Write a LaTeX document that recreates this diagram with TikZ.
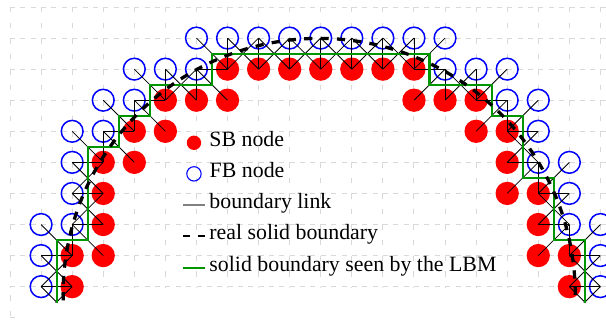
\documentclass[tikz,border=0pt]{standalone}
\usepackage{fontspec}
\setmainfont{Liberation Serif}
\usepackage{xcolor}
\definecolor{sbred}{RGB}{255, 0, 0}
\definecolor{fbblue}{RGB}{0, 0, 255}
\definecolor{lbmgreen}{RGB}{0, 150, 0}
\usepackage{tikz}
\usetikzlibrary{
    positioning
}
\tikzstyle{sbnode} = [
    circle,
    fill=sbred,
    inner sep=0pt,
    minimum size=0.6cm
]
\tikzstyle{fbnode} = [
    circle,
    draw=fbblue,
    line width=1.1pt,
    inner sep=0pt,
    minimum size=0.56cm
]
\tikzstyle{blink} = [
    black,
    line width=0.6pt
]
\tikzstyle{gridh} = [
    black!15,
    line width=0.7pt,
    dash pattern=on 3.66pt off 3.93pt
]
\tikzstyle{gridv} = [
    black!15,
    line width=0.7pt,
    dash pattern=on 4pt off 7.38pt
]
\tikzstyle{lbmline} = [
    lbmgreen,
    line width=1.5pt
]
\tikzstyle{realline} = [
    black,
    line width=2.4pt,
    dash pattern=on 6pt off 6pt
]
\tikzstyle{legmark} = [
    circle,
    inner sep=0pt,
    minimum size=0.37cm
]
\tikzstyle{legtext} = [
    inner sep=0pt,
    text height=1.5ex,
    text depth=0.25ex,
    font=\fontsize{16}{19}\selectfont
]

\begin{document}
\begin{tikzpicture}[x=0.8cm, y=-0.8cm]

\useasboundingbox (-0.322,-0.225) rectangle (19.18,10.138);

% Gitter
\foreach \r in {0,...,9} {
    \draw[gridh] (0,\r) -- (19.2,\r);
}
\foreach \c in {0,...,19} {
    \draw[gridv] (\c,0) -- (\c,9);
}
\draw[gridv] (0,9.27) -- (0,10);
\draw[gridh] (0,10) -- (0.2,10);

% SB nodes
\foreach \c/\r in {7/2,8/2,9/2,10/2,11/2,12/2,13/2,
                   5/3,6/3,7/3,13/3,14/3,15/3,
                   4/4,5/4,15/4,16/4,
                   3/5,4/5,16/5,
                   3/6,16/6,17/6,
                   3/7,17/7,
                   2/8,3/8,17/8,18/8,
                   2/9,18/9} {
    \node[sbnode] (sb-\c-\r) at (\c,\r) {};
}

% FB nodes
\foreach \c/\r in {6/1,7/1,8/1,9/1,10/1,11/1,12/1,13/1,14/1,
                   4/2,5/2,6/2,14/2,15/2,16/2,
                   3/3,4/3,16/3,17/3,
                   2/4,3/4,17/4,
                   2/5,17/5,18/5,
                   2/6,18/6,
                   1/7,2/7,18/7,19/7,
                   1/8,19/8,
                   1/9,19/9} {
    \node[fbnode] (fb-\c-\r) at (\c,\r) {};
}

% Knoten unterhalb des Bildrands
\coordinate (sb-2-10) at (2,10);
\coordinate (sb-18-10) at (18,10);
\coordinate (fb-1-10) at (1,10);
\coordinate (fb-19-10) at (19,10);

\begin{scope}
\clip (-0.5,-0.5) rectangle (19.5,9.5);

% boundary links
\newcommand{\fblinks}[2]{
    \foreach \t in {#2} {
        \draw[blink] (fb-#1.center) -- (sb-\t.center);
    }
}

\fblinks{6-1}{7-2};
\fblinks{7-1}{7-2,8-2};
\fblinks{8-1}{7-2,8-2,9-2};
\fblinks{9-1}{8-2,9-2,10-2};
\fblinks{10-1}{9-2,10-2,11-2};
\fblinks{11-1}{10-2,11-2,12-2};
\fblinks{12-1}{11-2,12-2,13-2};
\fblinks{13-1}{12-2,13-2};
\fblinks{14-1}{13-2};
\fblinks{4-2}{5-3};
\fblinks{5-2}{5-3,6-3};
\fblinks{6-2}{7-2,5-3,6-3,7-3};
\fblinks{14-2}{13-2,13-3,14-3,15-3};
\fblinks{15-2}{14-3,15-3};
\fblinks{16-2}{15-3};
\fblinks{3-3}{4-4};
\fblinks{4-3}{5-3,4-4,5-4};
\fblinks{16-3}{15-3,15-4,16-4};
\fblinks{17-3}{16-4};
\fblinks{2-4}{3-5};
\fblinks{3-4}{4-4,3-5,4-5};
\fblinks{17-4}{16-4,16-5};
\fblinks{2-5}{3-5,3-6};
\fblinks{17-5}{16-4,16-5,16-6,17-6};
\fblinks{18-5}{17-6};
\fblinks{2-6}{3-5,3-6,3-7};
\fblinks{18-6}{17-6,17-7};
\fblinks{1-7}{2-8};
\fblinks{2-7}{3-6,3-7,2-8,3-8};
\fblinks{18-7}{17-6,17-7,17-8,18-8};
\fblinks{19-7}{18-8};
\fblinks{1-8}{2-8,2-9};
\fblinks{19-8}{18-8,18-9};
\fblinks{1-9}{2-8,2-9,2-10};
\fblinks{19-9}{18-8,18-9,18-10};
\fblinks{1-10}{2-9};
\fblinks{19-10}{18-9};

% Rand, wie ihn das LBM sieht
\draw[lbmline]
    (1.5,9.6) -- (1.5,7.5) -- (2.5,7.5)   % links
    -- (2.5,4.5) -- (3.5,4.5) -- (3.5,3.5)
    -- (4.5,3.5) -- (4.5,2.5) -- (6.5,2.5)
    -- (6.5,1.5) -- (13.5,1.5)             % oben
    -- (13.5,2.5) -- (15.5,2.5) -- (15.5,3.5)
    -- (16.5,3.5) -- (16.5,5.5) -- (17.5,5.5)
    -- (17.5,7.5) -- (18.5,7.5) -- (18.5,9.6); % rechts

% echter Rand
\draw[realline] (9.95,9.25) ++(175:8.24)
    arc[start angle=175, end angle=365, radius=8.24];
\end{scope}

% Legende
\node[legmark, fill=sbred] (legsb) at (5.92,4.37) {};
\node[legmark, draw=fbblue, line width=0.8pt] (legfb) at (5.92,5.37) {};
\node[legmark] (leglink) at (5.92,6.37) {};
\node[legmark] (legreal) at (5.92,7.37) {};
\node[legmark] (leglbm) at (5.92,8.4) {};

\draw[gray, line width=0.9pt] ([xshift=-0.284cm]leglink.center) -- ([xshift=0.284cm]leglink.center);
\draw[black, line width=1.2pt, dash pattern=on 5.13pt off 5.86pt]
    ([xshift=-0.284cm]legreal.center) -- ([xshift=0.284cm]legreal.center);
\draw[lbmgreen, line width=0.8pt] ([xshift=-0.284cm]leglbm.center) -- ([xshift=0.284cm]leglbm.center);

\node[legtext, right=0.2cm of legsb] (txsb) {SB node};
\node[legtext, right=0.2cm of legfb] (txfb) {FB node};
\node[legtext, right=0.2cm of leglink] (txlink) {boundary link};
\node[legtext, right=0.2cm of legreal] (txreal) {real solid boundary};
\node[legtext, right=0.2cm of leglbm] (txlbm) {solid boundary seen by the LBM};

\end{tikzpicture}
\end{document}
